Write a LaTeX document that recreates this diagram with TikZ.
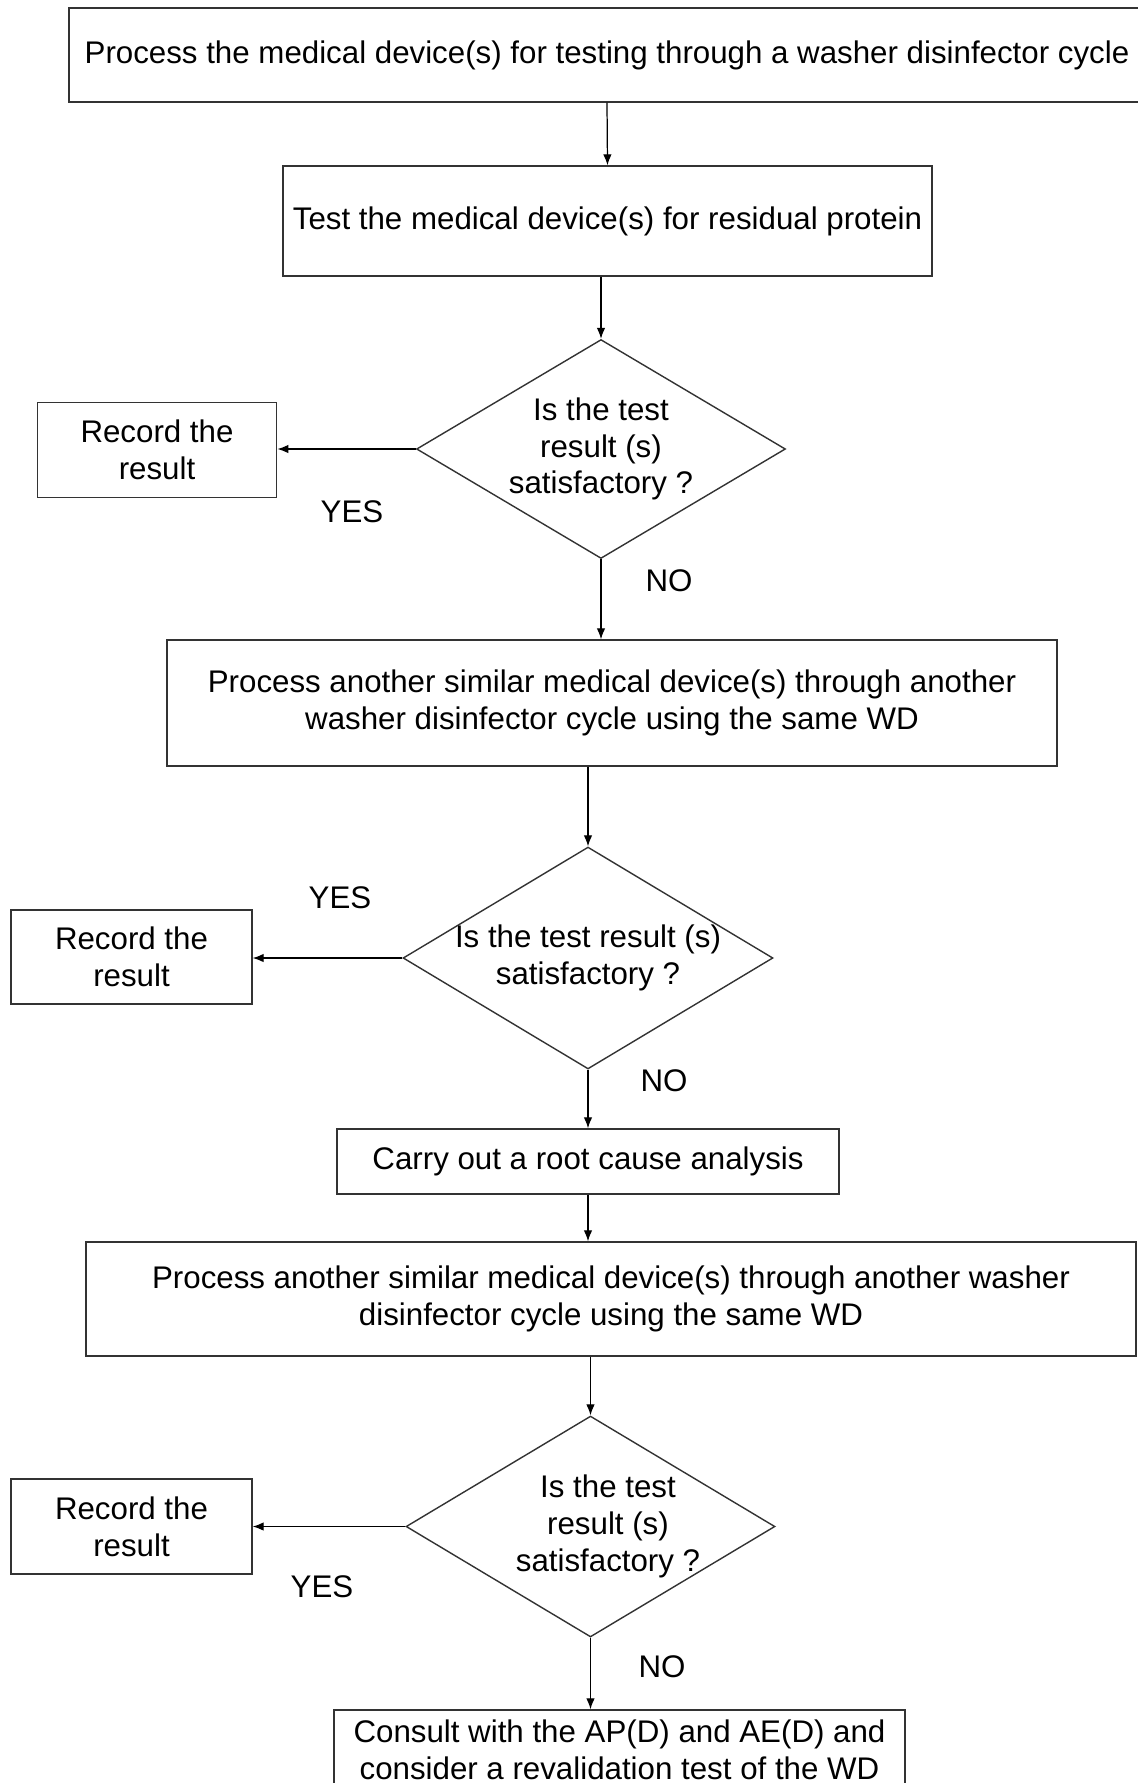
\documentclass[tikz,border=0pt]{standalone}
\usepackage{fontspec}
\setmainfont{Liberation Sans}
\usetikzlibrary{shapes.geometric,arrows.meta}
\tikzset{every node/.style={font=\fontsize{17.8}{21}\selectfont}}
\tikzset{ % boxes and connectors
    box/.style={draw=black!80, line width=0.8pt, align=center, inner sep=0pt},
    dia/.style={diamond, draw=black!80, line width=0.8pt, inner sep=0pt},
    arr/.style={-{Latex[length=2.2mm,width=1.7mm]}, line width=0.7pt},
}

\begin{document}
\begin{tikzpicture}[x=0.02cm, y=-0.02cm]
			\useasboundingbox (0,0) rectangle (1137,1783);
			% process boxes
			\node[box, minimum width=21.52cm, minimum height=1.88cm] (proc) at (607,55) {Process the medical device(s) for testing through a washer disinfector cycle};
			\node[box, minimum width=12.98cm, minimum height=2.2cm] (test) at (607.5,221) {Test the medical device(s) for residual protein};
			\node[box, minimum width=17.8cm, minimum height=2.52cm] (again) at (612,703) {Process another similar medical device(s) through another\\washer disinfector cycle using the same WD};
			\node[box, minimum width=10.04cm, minimum height=1.3cm] (cause) at (588,1161.5) {Carry out a root cause analysis};
			\node[box, minimum width=21cm, minimum height=2.28cm] (third) at (611,1299) {Process another similar medical device(s) through another washer\\disinfector cycle using the same WD};
			\node[box, minimum width=11.42cm, minimum height=1.6cm] (consult) at (619.5,1750) {Consult with the AP(D) and AE(D) and\\consider a revalidation test of the WD};
			% decisions
			\node[dia, minimum width=7.38cm, minimum height=4.38cm,
				label={[align=center]center:Is the test\\result (s)\\satisfactory ?}] (ask1) at (601,449) {};
			\node[dia, minimum width=7.4cm, minimum height=4.44cm,
				label={[align=center]center:Is the test result (s)\\satisfactory ?}] (ask2) at (588,958) {};
			\node[dia, minimum width=7.38cm, minimum height=4.42cm,
				label={[align=center, xshift=0.35cm]center:Is the test\\result (s)\\satisfactory ?}] (ask3) at (590.5,1526.5) {};
			% records
			\node[box, minimum width=4.79cm, minimum height=1.89cm] (rec1) at (157,450) {Record the\\result};
			\node[box, minimum width=4.82cm, minimum height=1.88cm] (rec2) at (131.5,957) {Record the\\result};
			\node[box, minimum width=4.82cm, minimum height=1.9cm] (rec3) at (131.5,1526.5) {Record the\\result};
			% YES / NO
			\node (yes1) at (352,512) {YES};
			\node (no1) at (669,581) {NO};
			\node (yes2) at (340,898) {YES};
			\node (no2) at (664,1081) {NO};
			\node (yes3) at (322,1587) {YES};
			\node (no3) at (662,1667) {NO};
			% connectors
			\draw[arr] (proc.south) -- (test.north);
			\draw[arr] (test.south -| ask1.north) -- (ask1.north);
			\draw[arr] (ask1.west) -- (rec1.east |- ask1.west);
			\draw[arr] (ask1.south) -- (ask1.south |- again.north);
			\draw[arr] (again.south -| ask2.north) -- (ask2.north);
			\draw[arr] (ask2.west) -- (rec2.east |- ask2.west);
			\draw[arr] (ask2.south) -- (cause.north);
			\draw[arr] (cause.south) -- (cause.south |- third.north);
			\draw[arr] (third.south -| ask3.north) -- (ask3.north);
			\draw[arr] (ask3.west) -- (rec3.east |- ask3.west);
			\draw[arr] (ask3.south) -- (ask3.south |- consult.north);
\end{tikzpicture}
\end{document}
